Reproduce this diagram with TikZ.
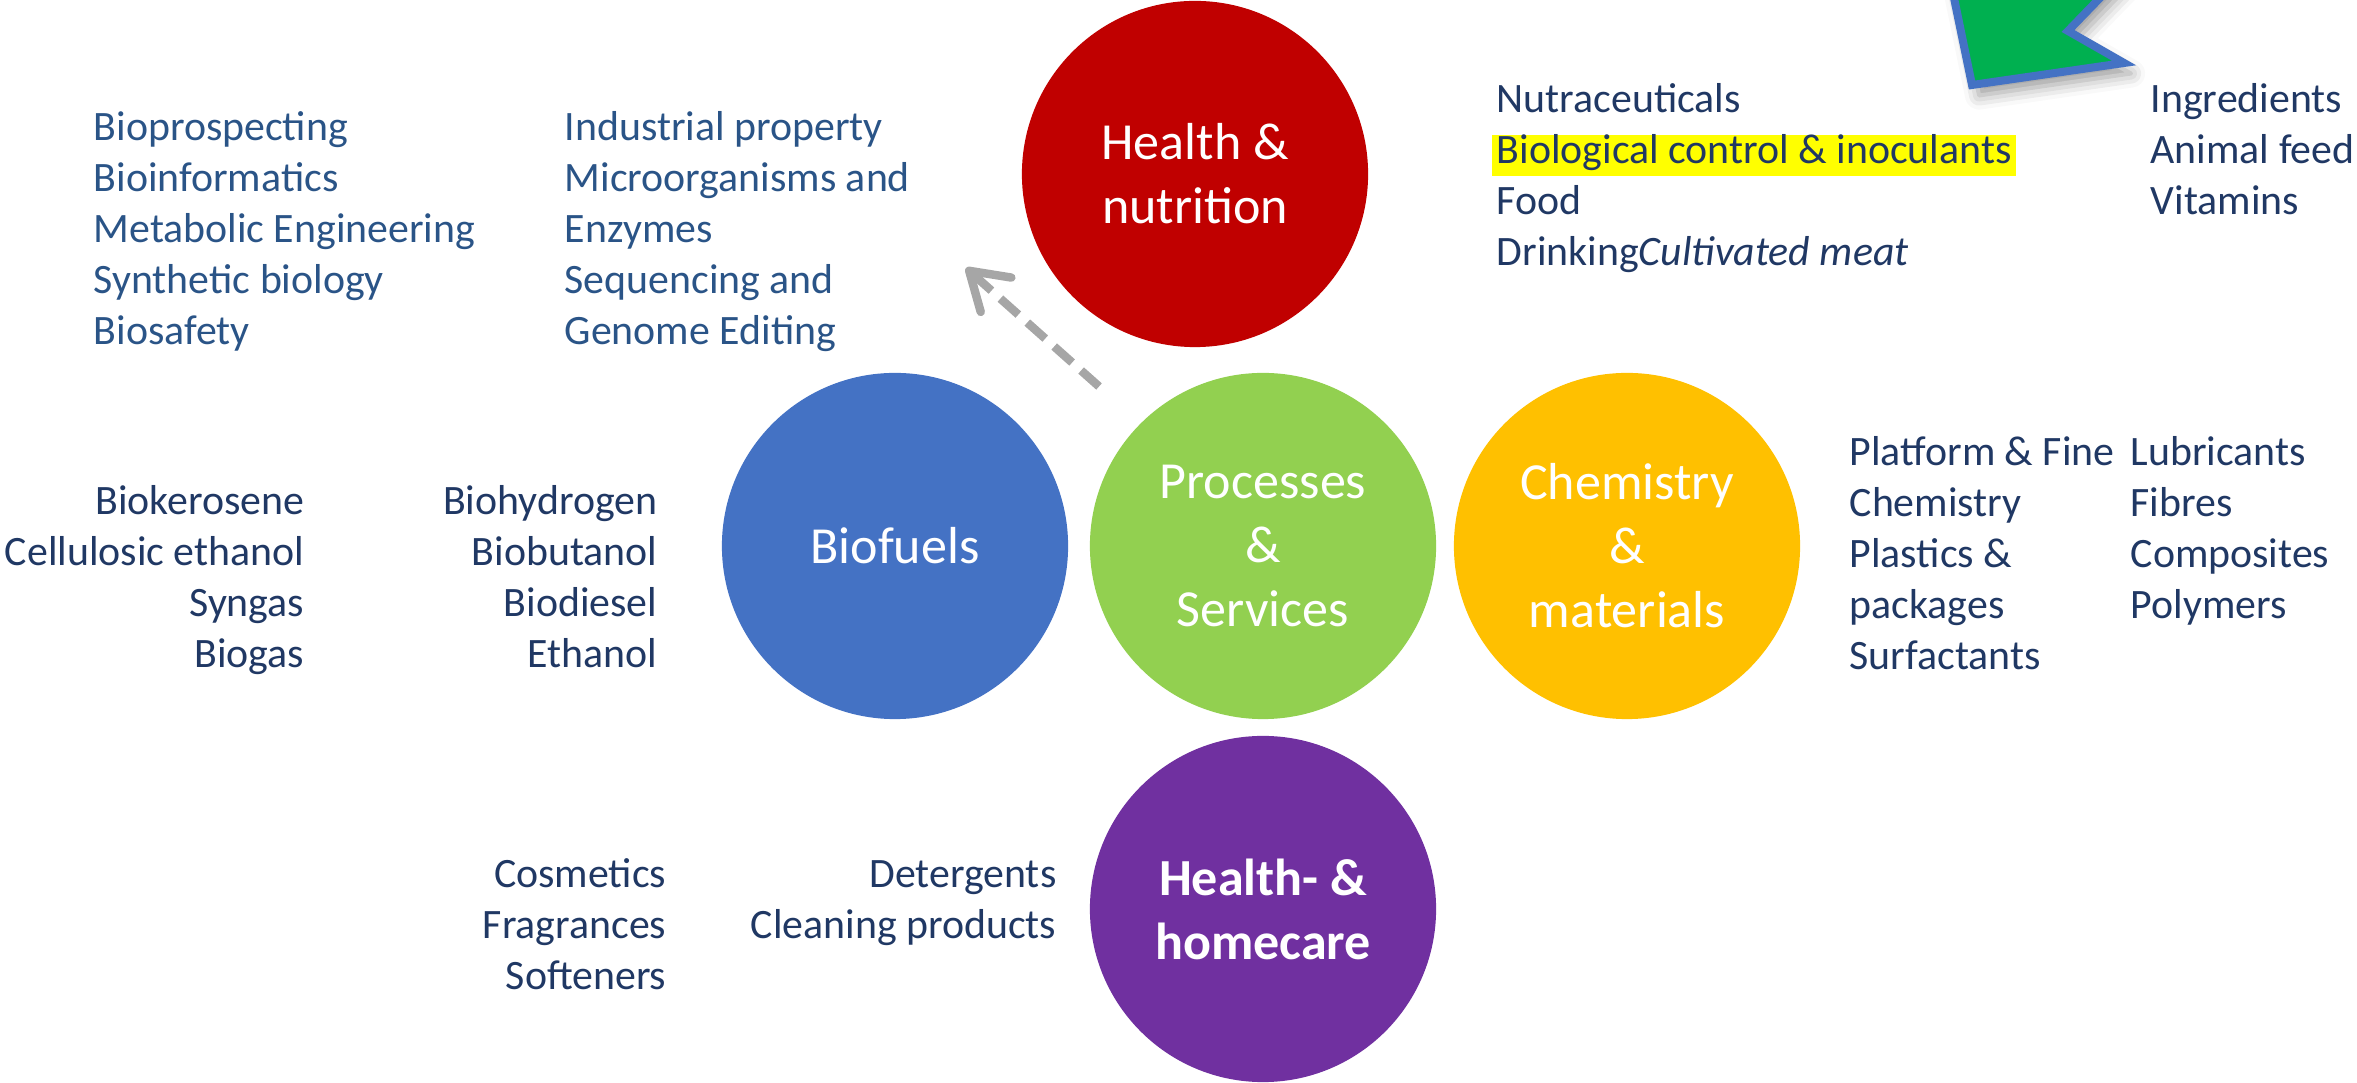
\documentclass[tikz,border=0pt]{standalone}
\usepackage{fontspec}
\setmainfont{Carlito}
\usetikzlibrary{arrows.meta,shadows.blur}

\definecolor{navy}{HTML}{203864}
\definecolor{steelnavy}{HTML}{2A5487}
\definecolor{cRed}{HTML}{C00000}
\definecolor{cBlue}{HTML}{4472C4}
\definecolor{cGreen}{HTML}{92D050}
\definecolor{cGold}{HTML}{FFC000}
\definecolor{cPurple}{HTML}{7030A0}
\definecolor{flagGreen}{HTML}{00B050}
\definecolor{hl}{HTML}{FFFF00}
\definecolor{dashgrey}{HTML}{A6A6A6}

\newcommand\listfont{\fontsize{11.9}{14.5}\selectfont}
\newcommand\bubblefont{\fontsize{14.8}{18.2}\selectfont}

\begin{document}
\begin{tikzpicture}[x=0.01cm,y=-0.01cm,
  bubble/.style={circle, minimum size=3.46cm, inner sep=0pt, text=white,
                 align=center, font=\bubblefont},
  itemlist/.style={inner sep=0pt, text=navy, font=\listfont},
  dasharrow/.style={draw=dashgrey, line width=2.4pt,
                    dash pattern=on 0.24cm off 0.12cm,
                    -{Straight Barb[length=0.36cm, width=0.46cm, round]}}
]
\useasboundingbox (0,0) rectangle (2357,1083);

% flag shape at the top right edge
\begin{scope}
  \clip (0,0) rectangle (2357,1083);
  \draw[fill=flagGreen, draw=cBlue, line width=0.08cm, line join=miter,
        blur shadow={shadow xshift=2pt, shadow yshift=-3pt, shadow blur radius=4pt}]
    (1942,-60) -- (1972,85) -- (2124,63) -- (2068,31) -- (2156,-60) -- cycle;
\end{scope}

% the five bubbles
\node[bubble, fill=cRed]    (health)  at (1195,174) {\raisebox{-2pt}{Health \&}\\\raisebox{-2pt}{nutrition}};
\node[bubble, fill=cBlue]   (biofuel) at (895,546)  {Biofuels};
\node[bubble, fill=cGreen]  (proc)    at (1263,546) {Processes\\\&\\Services};
\node[bubble, fill=cGold]   (chem)    at (1627,546) {Chemistry\\\&\\materials};
\node[bubble, fill=cPurple, font=\bubblefont\bfseries] (home) at (1263,909) {\raisebox{-2pt}{Health- \&}\\\raisebox{-2pt}{homecare}};

% dashed pointer towards the top-left lists
\coordinate (dashend) at (966,268);
\draw[dasharrow, shorten <=0.55cm] (proc.135) -- (dashend);

% lists of applications
\node[itemlist, text=steelnavy, anchor=base west] (tools) at (93,141)
  {\begin{tabular}[t]{@{}l@{}}Bioprospecting\\Bioinformatics\\Metabolic Engineering\\Synthetic biology\\Biosafety\end{tabular}};
\node[itemlist, text=steelnavy, anchor=base west] (ip) at (564,141)
  {\begin{tabular}[t]{@{}l@{}}Industrial property\\Microorganisms and\\Enzymes\\Sequencing and\\Genome Editing\end{tabular}};

\node[itemlist, anchor=base west] (nutri) at (1496,113)
  {\begin{tabular}[t]{@{}l@{}}Nutraceuticals\\
   \setlength\fboxsep{0pt}\hspace*{-1.2pt}\colorbox{hl}{\rule[-3.3pt]{0pt}{9.4pt}\kern1.2pt Biological control \& inoculants\kern1.2pt}\\
   Food\\Drinking\textit{Cultivated meat}\end{tabular}};
\node[itemlist, anchor=base west] (feed) at (2150,113)
  {\begin{tabular}[t]{@{}l@{}}Ingredients\\Animal feed\\Vitamins\end{tabular}};

\node[itemlist, anchor=base east] (fuelsA) at (305,515)
  {\begin{tabular}[t]{@{}r@{}}Biokerosene\\Cellulosic ethanol\\Syngas\\Biogas\end{tabular}};
\node[itemlist, anchor=base east] (fuelsB) at (658,515)
  {\begin{tabular}[t]{@{}r@{}}Biohydrogen\\Biobutanol\\Biodiesel\\Ethanol\end{tabular}};

\node[itemlist, anchor=base west] (chemA) at (1849,466)
  {\begin{tabular}[t]{@{}l@{}}Platform \& Fine\\Chemistry\\Plastics \&\\packages\\Surfactants\end{tabular}};
\node[itemlist, anchor=base west] (chemB) at (2130,466)
  {\begin{tabular}[t]{@{}l@{}}Lubricants\\Fibres\\Composites\\Polymers\end{tabular}};

\node[itemlist, anchor=base east] (care) at (667,888)
  {\begin{tabular}[t]{@{}r@{}}Cosmetics\\Fragrances\\Softeners\end{tabular}};
\node[itemlist, anchor=base east] (clean) at (1057,888)
  {\begin{tabular}[t]{@{}r@{}}Detergents\\Cleaning products\end{tabular}};
\end{tikzpicture}
\end{document}
